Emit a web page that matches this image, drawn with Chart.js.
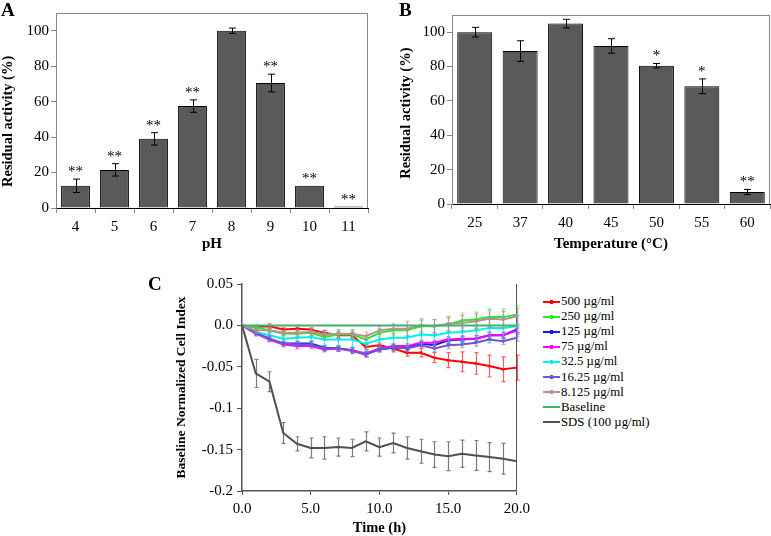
<!DOCTYPE html>
<html><head><meta charset="utf-8">
<script src="https://cdn.jsdelivr.net/npm/chart.js@4.4.1/dist/chart.umd.min.js"></script>
<style>
body{margin:0;background:#fff;width:771px;height:536px;position:relative;overflow:hidden;font-family:'Liberation Serif','Times New Roman',serif}
canvas{position:absolute}
.lbl{position:absolute;font-weight:bold;font-size:19px;line-height:1;color:#000}
#legend{position:absolute;left:543px;top:294px;font-size:12.8px;color:#000}
.row{height:15.1px;display:flex;align-items:center;white-space:nowrap}
.sw{width:17px;height:2px;margin-right:1px;position:relative}
.sw i{position:absolute;left:7px;top:-1px;width:3px;height:4px}
</style></head><body>
<canvas id="cA" width="385" height="262" style="left:0;top:0"></canvas>
<canvas id="cB" width="381" height="262" style="left:390px;top:0"></canvas>
<canvas id="cC" width="385" height="266" style="left:150px;top:270px"></canvas>
<div class="lbl" style="left:1px;top:0">A</div>
<div class="lbl" style="left:399px;top:0">B</div>
<div class="lbl" style="left:148px;top:274px">C</div>
<div id="legend"></div>
<script>
// ---------- Panel A data ----------
const phLabels = ['4','5','6','7','8','9','10','11'];
const phActivity = [12.5, 21.5, 39, 57.5, 100, 70.5, 12.5, 0.8];
const phError = [3.8, 3.5, 3.5, 3.5, 1.5, 5, 0, 0];
const phStars = ['**','**','**','**','','**','**','**'];

// ---------- Panel B data ----------
const tempLabels = ['25','37','40','45','50','55','60'];
const tempActivity = [100, 89, 105, 92, 80.5, 68.5, 7];
const tempError = [2.8, 6, 2.5, 4.2, 1.3, 4.3, 1.5];
const tempStars = ['','','','','*','*','**'];

// ---------- Panel C data ----------
const timeHours = [0,1,2,3,4,5,6,7,8,9,10,11,12,13,14,15,16,17,18,19,20];
const seriesNames = ['500 µg/ml','250 µg/ml','125 µg/ml','75 µg/ml','32.5 µg/ml','16.25 µg/ml','8.125 µg/ml','Baseline','SDS (100 µg/ml)'];
const ci500 = [0,-0.002,-0.001,-0.005,-0.004,-0.005,-0.009,-0.012,-0.012,-0.026,-0.024,-0.028,-0.033,-0.033,-0.039,-0.042,-0.044,-0.046,-0.049,-0.053,-0.051];
const ci250 = [0,-0.002,-0.006,-0.010,-0.010,-0.009,-0.014,-0.011,-0.011,-0.017,-0.009,-0.006,-0.006,-0.001,-0.001,0.001,0.006,0.007,0.010,0.010,0.013];
const ci125 = [0,-0.009,-0.016,-0.022,-0.022,-0.022,-0.027,-0.028,-0.030,-0.035,-0.029,-0.027,-0.027,-0.022,-0.024,-0.018,-0.017,-0.016,-0.012,-0.012,-0.005];
const ci75 = [0,-0.010,-0.017,-0.023,-0.025,-0.025,-0.029,-0.028,-0.030,-0.034,-0.028,-0.025,-0.025,-0.021,-0.021,-0.017,-0.016,-0.016,-0.012,-0.012,-0.006];
const ci32 = [0,-0.008,-0.012,-0.016,-0.015,-0.014,-0.017,-0.017,-0.017,-0.022,-0.017,-0.015,-0.015,-0.011,-0.012,-0.009,-0.008,-0.006,-0.003,-0.003,-0.001];
const ci16 = [0,-0.009,-0.016,-0.022,-0.023,-0.023,-0.028,-0.028,-0.031,-0.035,-0.029,-0.026,-0.028,-0.024,-0.028,-0.024,-0.023,-0.021,-0.017,-0.019,-0.015];
const ci8 = [0,-0.006,-0.006,-0.009,-0.009,-0.008,-0.011,-0.010,-0.010,-0.013,-0.006,-0.004,-0.004,0.000,-0.001,0.002,0.003,0.005,0.008,0.007,0.011];
const ciBase = [0,0,0,0,0,0,0,0,0,0,0,0,0,0,0,0,0,0,0,0,0];
const ciSDS = [0,-0.058,-0.068,-0.130,-0.143,-0.148,-0.148,-0.147,-0.148,-0.140,-0.147,-0.142,-0.148,-0.152,-0.156,-0.158,-0.155,-0.157,-0.159,-0.161,-0.164];
const err500 = [0,0.002,0.003,0.002,0.002,0.002,0.003,0.003,0.003,0.003,0.003,0.004,0.004,0.005,0.006,0.009,0.012,0.013,0.013,0.015,0.015];
const err250 = [0,0.002,0.003,0.003,0.003,0.003,0.004,0.004,0.004,0.005,0.005,0.006,0.006,0.007,0.008,0.008,0.009,0.009,0.010,0.010,0.011];
const err125 = [0,0.002,0.002,0.002,0.003,0.003,0.003,0.003,0.003,0.003,0.003,0.003,0.003,0.003,0.004,0.004,0.004,0.004,0.004,0.004,0.004];
const err75 = [0,0.003,0.003,0.003,0.003,0.003,0.003,0.003,0.003,0.003,0.003,0.003,0.003,0.003,0.003,0.003,0.003,0.003,0.003,0.003,0.003];
const err32 = [0,0.004,0.005,0.006,0.006,0.007,0.008,0.009,0.009,0.009,0.009,0.010,0.010,0.011,0.012,0.012,0.012,0.012,0.013,0.013,0.013];
const err16 = [0,0.003,0.003,0.003,0.003,0.003,0.003,0.003,0.003,0.003,0.003,0.003,0.003,0.003,0.004,0.004,0.004,0.004,0.004,0.004,0.004];
const err8 = [0,0.003,0.003,0.003,0.004,0.004,0.004,0.005,0.005,0.005,0.005,0.006,0.009,0.008,0.008,0.009,0.009,0.009,0.010,0.010,0.010];
const errSDS = [0,0.017,0.012,0.0125,0.0085,0.012,0.0135,0.011,0.0105,0.0115,0.011,0.012,0.0135,0.0145,0.0155,0.0175,0.0165,0.018,0.0175,0.0185,0];
const yTicksC = [-0.2,-0.15,-0.1,-0.05,0,0.05];
const yTickLabelsC = ['-0.2','-0.15','-0.1','-0.05','0.0','0.05'];
const xTickLabelsC = ['0.0','5.0','10.0','15.0','20.0'];

const SERIF = "'Liberation Serif','Times New Roman',serif";
const lineColors = ['#ff0000','#22ee22','#1a1ae6','#ff00ff','#00f0f0','#6a5acd','#bc8f8f','#3cb371','#505050'];
const errColors = ['rgba(240,40,40,0.75)','rgba(60,220,60,0.6)','rgba(40,40,230,0.6)','rgba(240,40,240,0.6)','rgba(0,220,230,0.75)','rgba(110,100,210,0.6)','rgba(190,140,140,0.75)','rgba(60,179,113,0.6)','rgba(80,80,80,0.75)'];

// ---------- plugins ----------
const errorBarPlugin = {
  id: 'errorBars',
  afterDatasetDraw(chart, args, opts) {
    const ds = chart.data.datasets[args.index];
    if (!ds.errorBars) return;
    const ctx = chart.ctx, ys = chart.scales.y;
    ctx.save();
    ctx.strokeStyle = ds.errorColor || '#000';
    ctx.lineWidth = opts.width || 1;
    args.meta.data.forEach((el, j) => {
      const e = ds.errorBars[j];
      if (!e) return;
      const v = ds.data[j];
      const y1 = ys.getPixelForValue(v + e), y2 = ys.getPixelForValue(v - e);
      const c = opts.cap || 3;
      const x = Math.round(el.x) + 0.5;
      ctx.beginPath();
      ctx.moveTo(x, y1); ctx.lineTo(x, y2);
      ctx.moveTo(x - c, y1); ctx.lineTo(x + c, y1);
      ctx.moveTo(x - c, y2); ctx.lineTo(x + c, y2);
      ctx.stroke();
    });
    ctx.restore();
  }
};
const starPlugin = {
  id: 'stars',
  afterDatasetsDraw(chart, args, opts) {
    const ds = chart.data.datasets[0];
    if (!ds.stars) return;
    const ctx = chart.ctx, ys = chart.scales.y;
    const meta = chart.getDatasetMeta(0);
    ctx.save();
    ctx.font = '15px ' + SERIF;
    ctx.fillStyle = '#000';
    ctx.textAlign = 'center';
    ctx.textBaseline = 'alphabetic';
    meta.data.forEach((el, j) => {
      if (!ds.stars[j]) return;
      const top = ys.getPixelForValue(ds.data[j] + (ds.errorBars[j] || 0));
      ctx.fillText(ds.stars[j], el.x, top - opts.gap);
    });
    ctx.restore();
  }
};
const framePlugin = {
  id: 'frame',
  beforeDatasetsDraw(chart, args, opts) {
    if (!opts.sides) return;
    const {left, right, top, bottom} = chart.chartArea;
    const ctx = chart.ctx;
    ctx.save();
    ctx.strokeStyle = opts.color; ctx.lineWidth = 1;
    ctx.beginPath();
    if (opts.sides.includes('top')) { ctx.moveTo(left, top + 0.5); ctx.lineTo(right, top + 0.5); }
    if (opts.sides.includes('right')) { ctx.moveTo(Math.round(right) - 0.5, top); ctx.lineTo(Math.round(right) - 0.5, bottom); }
    ctx.stroke();
    ctx.restore();
  }
};
Chart.register(errorBarPlugin, starPlugin, framePlugin);

function barChart(id, labels, values, errors, stars, opt) {
  return new Chart(document.getElementById(id), {
    type: 'bar',
    data: { labels: labels, datasets: [{
      data: values, errorBars: errors, stars: stars, errorColor: '#000',
      backgroundColor: '#5a5a5a', borderColor: '#000', borderWidth: 1,
      categoryPercentage: 1, barPercentage: opt.barPct
    }]},
    options: {
      responsive: false, animation: false, events: [],
      layout: { padding: opt.pad },
      plugins: {
        legend: { display: false }, tooltip: { enabled: false },
        frame: { sides: ['top','right'], color: '#888' },
        errorBars: { cap: 3.5, width: 1 },
        stars: { gap: opt.starGap }
      },
      scales: {
        x: {
          grid: { display: true, drawOnChartArea: false, tickLength: 5, color: '#888', offset: true },
          border: { color: '#000', width: 1 },
          ticks: { font: { family: SERIF, size: 15 }, color: '#000', padding: opt.xTickPad },
          title: { display: true, text: opt.xTitle, color: '#000', font: { family: SERIF, size: 15, weight: 'bold', lineHeight: 1 }, padding: { top: 0, bottom: opt.xTitlePad } },
          afterFit(s) { s.height = opt.xH; }
        },
        y: {
          min: 0, max: 110,
          afterBuildTicks(s) { s.ticks = s.ticks.filter(t => t.value <= 100); },
          grid: { display: true, drawOnChartArea: false, tickLength: 5, color: '#888' },
          border: { color: '#888', width: 1 },
          ticks: { stepSize: 20, font: { family: SERIF, size: 15 }, color: '#000', padding: 2 },
          title: { display: true, text: 'Residual activity (%)' + '\u00A0'.repeat(opt.yTitleShift), color: '#000', font: { family: SERIF, size: 14.5, weight: 'bold', lineHeight: 1 }, padding: { top: opt.yTitlePad, bottom: 0 } },
          afterFit(s) { s.width = opt.yW; }
        }
      }
    }
  });
}

barChart('cA', phLabels, phActivity, phError, phStars,
  { barPct: 0.74, pad: { left: 0, top: 13, right: 17, bottom: 0 }, xH: 54, yW: 56, xTitle: 'pH', xTitlePad: 10, yTitlePad: 1, yTitleShift: 6, xTickPad: 5, starGap: 3 });
barChart('cB', tempLabels, tempActivity, tempError, tempStars,
  { barPct: 0.77, pad: { left: 0, top: 15, right: 1, bottom: 0 }, xH: 58, yW: 62, xTitle: 'Temperature (°C)', xTitlePad: 10, yTitlePad: 9, yTitleShift: 2, xTickPad: 5, starGap: 3 });

// ---------- Panel C ----------
const ciSeries = [ci500, ci250, ci125, ci75, ci32, ci16, ci8, ciBase, ciSDS];
const errSeries = [err500, err250, err125, err75, err32, err16, err8, null, errSDS];
const datasetsC = ciSeries.map((vals, i) => ({
  label: seriesNames[i],
  data: vals,
  errorBars: errSeries[i],
  errorColor: errColors[i],
  borderColor: lineColors[i],
  backgroundColor: lineColors[i],
  borderWidth: 2,
  pointRadius: (i < 7) ? 1.5 : 0,
  pointBorderWidth: 0,
  tension: 0,
  order: ciSeries.length - i
}));
new Chart(document.getElementById('cC'), {
  type: 'line',
  data: { labels: timeHours, datasets: datasetsC },
  options: {
    responsive: false, animation: false, events: [],
    layout: { padding: { left: 0, top: 14, right: 9, bottom: 0 } },
    plugins: {
      legend: { display: false }, tooltip: { enabled: false },
      frame: { sides: ['right'], color: '#555' },
      errorBars: { cap: 2, width: 1.2 }
    },
    scales: {
      x: {
        type: 'linear', min: 0, max: 20,
        afterBuildTicks(s) { s.ticks = xTickLabelsC.map(t => ({ value: parseFloat(t) })); },
        grid: { display: true, drawOnChartArea: false, tickLength: 4, color: '#555' },
        border: { color: '#555', width: 1.5 },
        ticks: { font: { family: SERIF, size: 15 }, color: '#000', padding: 5,
                 callback: (v, i) => xTickLabelsC[i] },
        title: { display: true, text: 'Time (h)', color: '#000', font: { family: SERIF, size: 14.5, weight: 'bold', lineHeight: 1 }, padding: { top: 0, bottom: 1 } },
        afterFit(s) { s.height = 45; }
      },
      y: {
        min: -0.2, max: 0.05,
        afterBuildTicks(s) { s.ticks = yTicksC.map(v => ({ value: v })); },
        grid: { display: true, drawOnChartArea: false, tickLength: 5, color: '#555' },
        border: { color: '#555', width: 1.5 },
        ticks: { font: { family: SERIF, size: 15 }, color: '#000', padding: 4,
                 callback: (v, i) => yTickLabelsC[i] },
        title: { display: true, text: 'Baseline Normalized Cell Index', color: '#000', font: { family: SERIF, size: 13.5, weight: 'bold', lineHeight: 1 }, padding: { top: 25, bottom: 0 } },
        afterFit(s) { s.width = 92; }
      }
    }
  }
});

// ---------- legend for C (HTML text) ----------
const leg = document.getElementById('legend');
seriesNames.forEach((name, i) => {
  const row = document.createElement('div');
  row.className = 'row';
  const sw = document.createElement('span');
  sw.className = 'sw';
  sw.style.background = lineColors[i];
  if (i < 7) { const m = document.createElement('i'); m.style.background = lineColors[i]; sw.appendChild(m); }
  const t = document.createElement('span');
  t.textContent = name;
  row.appendChild(sw); row.appendChild(t);
  leg.appendChild(row);
});
</script>
</body></html>
